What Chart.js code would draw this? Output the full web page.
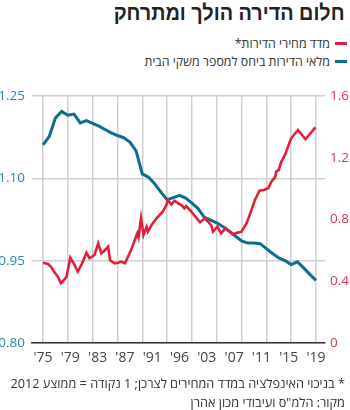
<!DOCTYPE html>
<html lang="he">
<head>
<meta charset="UTF-8">
<title>חלום הדירה הולך ומתרחק</title>
<script src="https://cdn.jsdelivr.net/npm/chart.js"></script>
<style>
    body {
        margin: 0;
        width: 350px;
        height: 410px;
        background: #fff;
        position: relative;
        overflow: hidden;
        font-family: "Open Sans", "Liberation Sans", sans-serif;
        color: #333;
    }
    .title {
        position: absolute;
        right: 5px;
        top: 0px;
        font-family: "Liberation Sans Narrow", "Liberation Sans", sans-serif;
        font-size: 22px;
        font-weight: bold;
        color: #222;
        direction: rtl;
        white-space: nowrap;
        transform: scaleX(0.9);
        transform-origin: right center;
    }
    .legend {
        position: absolute;
        right: 3px;
        direction: rtl;
        font-size: 12.4px;
        white-space: nowrap;
        display: flex;
        align-items: center;
    }
    .legend span.swatch {
        display: inline-block;
        width: 12px;
        height: 3px;
        margin-left: 5px;
    }
    .note {
        position: absolute;
        right: 5px;
        direction: rtl;
        font-size: 12.7px;
        white-space: nowrap;
    }
    #wrap {
        position: absolute;
        left: 0;
        top: 80px;
        width: 350px;
        height: 300px;
    }
</style>
</head>
<body>
    <div class="title">חלום הדירה הולך ומתרחק</div>
    <div class="legend" style="top:35px"><span class="swatch" style="background:#e21f3a"></span>מדד מחירי הדירות*</div>
    <div class="legend" style="top:53px"><span class="swatch" style="background:#0f6d8c"></span>מלאי הדירות ביחס למספר משקי הבית</div>

    <div id="wrap"><canvas id="myChart"></canvas></div>

    <div class="note" style="top:374px">* בניכוי האינפלציה במדד המחירים לצרכן; 1 נקודה = ממוצע 2012</div>
    <div class="note" style="top:393px">מקור: הלמ"ס ועיבודי מכון אהרן</div>

<script>
    // tick labels under the x axis (evenly spread, as in the original)
    const xLabels = ["'75", "'79", "'83", "'87", "'91", "'96", "'03", "'07", "'11", "'15", "'19"];
    const gridYears = [1975, 1979, 1983, 1987, 1991, 1995, 1999, 2003, 2007, 2011, 2015, 2019];
    const leftTicks = [0.80, 0.95, 1.10, 1.25];
    const rightTicks = [0, 0.4, 0.8, 1.2, 1.6];

    // housing stock per household (left axis), yearly
    const stockYears = [1975, 1976, 1977, 1978, 1979, 1980, 1981, 1982, 1983, 1984, 1985, 1986, 1987,
        1988, 1989, 1990, 1991, 1992, 1993, 1994, 1995, 1996, 1997, 1998, 1999, 2000, 2001, 2002,
        2003, 2004, 2005, 2006, 2007, 2008, 2009, 2010, 2011, 2012, 2013, 2014, 2015, 2016, 2017,
        2018, 2019];
    const stockValues = [1.161, 1.176, 1.210, 1.222, 1.215, 1.217, 1.201, 1.205, 1.200, 1.195, 1.189,
        1.183, 1.178, 1.174, 1.166, 1.150, 1.108, 1.102, 1.090, 1.075, 1.061, 1.065, 1.069, 1.064,
        1.055, 1.045, 1.029, 1.024, 1.019, 1.012, 1.004, 0.995, 0.986, 0.982, 0.982, 0.981, 0.972,
        0.963, 0.955, 0.950, 0.943, 0.948, 0.937, 0.925, 0.914];

    // real house price index (right axis)
    const priceYears = [1975.0, 1975.8, 1976.3, 1976.9, 1977.4, 1977.9, 1978.5, 1978.8, 1979.4, 1980.1,
        1980.6, 1981.3, 1982.0, 1982.5, 1983.3, 1983.9, 1984.4, 1984.9, 1985.5, 1985.8, 1986.1,
        1986.6, 1987.1, 1987.6, 1988.2, 1988.7, 1989.2, 1989.8, 1990.2, 1990.4, 1990.8, 1991.2,
        1991.7, 1991.9, 1992.5, 1993.3, 1994.3, 1994.9, 1995.1, 1995.7, 1996.2, 1996.8, 1997.3,
        1997.8, 1998.1, 1998.9, 2000.3, 2001.1, 2002.1, 2002.4, 2003.1, 2003.7, 2004.4, 2005.1,
        2005.6, 2006.4, 2007.0, 2007.8, 2008.5, 2009.2, 2009.9, 2010.6, 2011.3, 2011.8, 2012.4,
        2012.6, 2013.0, 2013.4, 2014.0, 2014.5, 2015.0, 2016.1, 2017.3, 2018.9];
    const priceValues = [0.520, 0.512, 0.494, 0.455, 0.430, 0.387, 0.413, 0.430, 0.553, 0.505,
        0.462, 0.516, 0.585, 0.549, 0.570, 0.646, 0.581, 0.598, 0.624, 0.538, 0.527,
        0.516, 0.520, 0.527, 0.516, 0.559, 0.602, 0.667, 0.711, 0.685, 0.808, 0.700,
        0.753, 0.721, 0.764, 0.808, 0.851, 0.894, 0.926, 0.898, 0.922, 0.905, 0.894,
        0.873, 0.886, 0.851, 0.782, 0.808, 0.764, 0.721, 0.753, 0.711, 0.743, 0.721,
        0.704, 0.715, 0.721, 0.775, 0.850, 0.930, 0.987, 0.991, 1.002, 1.045, 1.073,
        1.110, 1.121, 1.174, 1.218, 1.272, 1.326, 1.380, 1.320, 1.397];

    const blue = '#0f6d8c';
    const red = '#e21f3a';

    const ctx = document.getElementById('myChart').getContext('2d');
    const myChart = new Chart(ctx, {
        type: 'line',
        data: {
            datasets: [{
                label: 'מדד מחירי הדירות*',
                data: priceYears.map((y, i) => ({ x: y, y: priceValues[i] })),
                yAxisID: 'yR',
                borderColor: red,
                borderWidth: 2.6,
                pointRadius: 0,
                tension: 0
            },
            {
                label: 'מלאי הדירות ביחס למספר משקי הבית',
                data: stockYears.map((y, i) => ({ x: y, y: stockValues[i] })),
                yAxisID: 'yL',
                borderColor: blue,
                borderWidth: 3,
                pointRadius: 0,
                tension: 0
            }]
        },
        options: {
            responsive: true,
            maintainAspectRatio: false,
            animation: false,
            layout: { padding: { top: 16, left: 0, right: 0, bottom: 0 } },
            plugins: {
                legend: { display: false },
                tooltip: { enabled: false }
            },
            scales: {
                x: {
                    type: 'linear',
                    weight: 0,
                    min: 1975 - 11 / 6.205,
                    max: 2019 + 9 / 6.205,
                    afterBuildTicks: s => { s.ticks = gridYears.map(v => ({ value: v })); },
                    afterFit: s => { s.height = 0; },
                    ticks: { display: false },
                    grid: { color: '#cfcfcf', lineWidth: 1.5, drawTicks: false },
                    border: { display: true, color: '#333', width: 1.5 }
                },
                xl: {
                    type: 'linear',
                    position: 'bottom',
                    weight: 1,
                    min: -11 / 27.3,
                    max: 10 + 9 / 27.3,
                    afterBuildTicks: s => { s.ticks = xLabels.map((l, i) => ({ value: i })); },
                    afterFit: s => { s.height = 37; },
                    grid: { display: false, drawTicks: false },
                    border: { display: false },
                    ticks: {
                        autoSkip: false,
                        maxRotation: 0,
                        padding: 7,
                        color: '#444',
                        font: { family: 'Open Sans', size: 14 },
                        callback: (v, i) => xLabels[i]
                    }
                },
                yL: {
                    position: 'left',
                    min: 0.80,
                    max: 1.25,
                    afterBuildTicks: s => { s.ticks = leftTicks.map(v => ({ value: v })); },
                    afterFit: s => { s.width = 32; },
                    grid: { color: '#cfcfcf', lineWidth: 1.5, drawTicks: false },
                    border: { display: false },
                    ticks: {
                        padding: 7,
                        color: '#2b88b0',
                        font: { family: 'Open Sans', size: 13.5 },
                        callback: v => v.toFixed(2)
                    }
                },
                yR: {
                    position: 'right',
                    min: 0,
                    max: 1.6,
                    afterBuildTicks: s => { s.ticks = rightTicks.map(v => ({ value: v })); },
                    afterFit: s => { s.width = 25; },
                    grid: { display: false, drawTicks: false },
                    border: { display: false },
                    ticks: {
                        padding: 5,
                        color: '#e3344a',
                        font: { family: 'Open Sans', size: 13.5 },
                        callback: v => String(v)
                    }
                }
            }
        }
    });
</script>
</body>
</html>
